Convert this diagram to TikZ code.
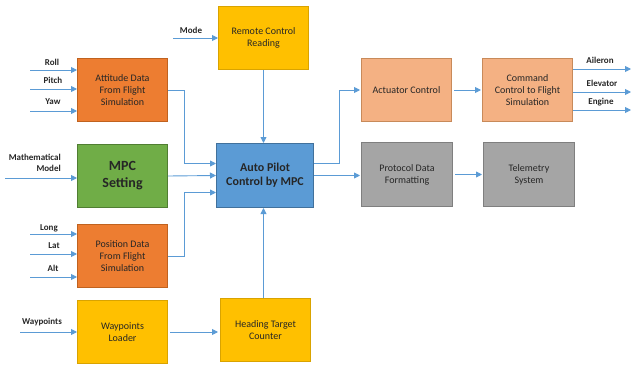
\documentclass[tikz,border=0pt]{standalone}
\usepackage{fontspec}
\setmainfont{Carlito}
\usetikzlibrary{arrows.meta,calc}
\definecolor{arrc}{HTML}{5B9BD5}
\definecolor{orgF}{HTML}{ED7D31}\definecolor{orgD}{HTML}{C0621F}
\definecolor{ltoF}{HTML}{F4B183}\definecolor{ltoD}{HTML}{C88A5A}
\definecolor{grnF}{HTML}{70AD47}\definecolor{grnD}{HTML}{507E32}
\definecolor{bluF}{HTML}{5B9BD5}\definecolor{bluD}{HTML}{41719C}
\definecolor{yelF}{HTML}{FFC000}\definecolor{yelD}{HTML}{D9A300}
\definecolor{gryF}{HTML}{A5A5A5}\definecolor{gryD}{HTML}{7F7F7F}
\definecolor{txt}{HTML}{262626}
\tikzset{
  box/.style={draw, line width=1pt, anchor=north west, minimum width=90pt, minimum height=63pt,
    inner sep=2pt, align=center, text=txt, font=\fontsize{10}{12}\selectfont},
  orgbox/.style={box, fill=orgF, draw=orgD},
  ltobox/.style={box, fill=ltoF, draw=ltoD},
  grnbox/.style={box, fill=grnF, draw=grnD},
  blubox/.style={box, fill=bluF, draw=bluD},
  yelbox/.style={box, fill=yelF, draw=yelD},
  grybox/.style={box, fill=gryF, draw=gryD},
  arr/.style={draw=arrc, line width=0.9pt, -{Triangle[length=6pt,width=6pt]}},
  lab/.style={font=\bfseries\fontsize{9}{11}\selectfont, text=txt, inner sep=1pt},
}
\begin{document}
\begin{tikzpicture}[x=1pt,y=-1pt]
\useasboundingbox (0,0) rectangle (632,367);
% boxes
\node[yelbox] (rc) at (218,6) {Remote Control\\Reading};
\node[orgbox, minimum width=90pt] (att) at (77,58) {Attitude Data\\From Flight\\Simulation};
\node[grnbox, minimum height=63pt, font=\bfseries\fontsize{14}{17}\selectfont] (mpc) at (77,144) {MPC\\Setting};
\node[blubox, minimum width=97pt, minimum height=64pt, font=\bfseries\fontsize{12}{14}\selectfont] (auto) at (216,143) {Auto Pilot\\Control by MPC};
\node[orgbox] (pos) at (77,224) {Position Data\\From Flight\\Simulation};
\node[yelbox] (wl) at (77,300) {Waypoints\\Loader};
\node[yelbox] (htc) at (220,298) {Heading Target\\Counter};
\node[ltobox] (act) at (361,58) {Actuator Control};
\node[ltobox] (cmd) at (482,58) {Command\\Control to Flight\\Simulation};
\node[grybox, minimum width=91pt, minimum height=64pt] (pdf) at (361,142) {Protocol Data\\Formatting};
\node[grybox, minimum width=91pt, minimum height=64pt] (tel) at (483,142) {Telemetry\\System};
% input coordinates
\coordinate (sMode) at (173,38);
\coordinate (sRoll) at (30,70);
\coordinate (sPitch) at (30,89);
\coordinate (sYaw) at (30,111);
\coordinate (sMath) at (5,178);
\coordinate (sLong) at (30,234);
\coordinate (sLat) at (30,254);
\coordinate (sAlt) at (30,277);
\coordinate (sWay) at (20,332);
\coordinate (eAil) at (631,69);
\coordinate (eEle) at (631,92);
\coordinate (eEng) at (631,110);
% labels
\node[lab] (lMode) at (191,30) {Mode};
\node[lab] (lRoll) at (52,62) {Roll};
\node[lab] (lPitch) at (53,80) {Pitch};
\node[lab] (lYaw) at (53,102) {Yaw};
\node[lab, align=right, anchor=east] (lMath) at (62,163) {Mathematical\\Model};
\node[lab] (lLong) at (49,228) {Long};
\node[lab] (lLat) at (54,246) {Lat};
\node[lab] (lAlt) at (53,268) {Alt};
\node[lab] (lWay) at (42,322) {Waypoints};
\node[lab] (lAil) at (600,60) {Aileron};
\node[lab] (lEle) at (602,83) {Elevator};
\node[lab] (lEng) at (601,102) {Engine};
% input arrows
\draw[arr] (sMode) -- (sMode -| rc.west);
\draw[arr] (sRoll) -- (sRoll -| att.west);
\draw[arr] (sPitch) -- (sPitch -| att.west);
\draw[arr] (sYaw) -- (sYaw -| att.west);
\draw[arr] (sMath) -- (sMath -| mpc.west);
\draw[arr] (sLong) -- (sLong -| pos.west);
\draw[arr] (sLat) -- (sLat -| pos.west);
\draw[arr] (sAlt) -- (sAlt -| pos.west);
\draw[arr] (sWay) -- (sWay -| wl.west);
% internal connectors
\draw[arr] (att.east) -- ++(16,0) |- ([yshift=12pt]auto.west);
\draw[arr] (mpc.east) -- (auto.west);
\draw[arr] (pos.east) -- ++(16,0) |- ([yshift=-17pt]auto.west);
\draw[arr] (rc.south) -- (rc.south |- auto.north);
\draw[arr] (htc.north -| rc.south) -- (rc.south |- auto.south);
\draw[arr] ([xshift=2pt]wl.east) -- ([xshift=-2pt]wl.east -| htc.west);
\draw[arr] ([yshift=12pt]auto.east) -- ++(25,0) |- ([xshift=-1pt]act.west);
\draw[arr] (auto.east) -- ([xshift=-1pt]pdf.west |- auto.east);
\draw[arr] ([xshift=2pt]act.east) -- ([xshift=-1pt]cmd.west);
\draw[arr] ([xshift=2pt]pdf.east) -- ([xshift=-1pt]tel.west);
% outputs
\draw[arr] (cmd.east |- eAil) -- (eAil);
\draw[arr] (cmd.east |- eEle) -- (eEle);
\draw[arr] (cmd.east |- eEng) -- (eEng);
\end{tikzpicture}
\end{document}
